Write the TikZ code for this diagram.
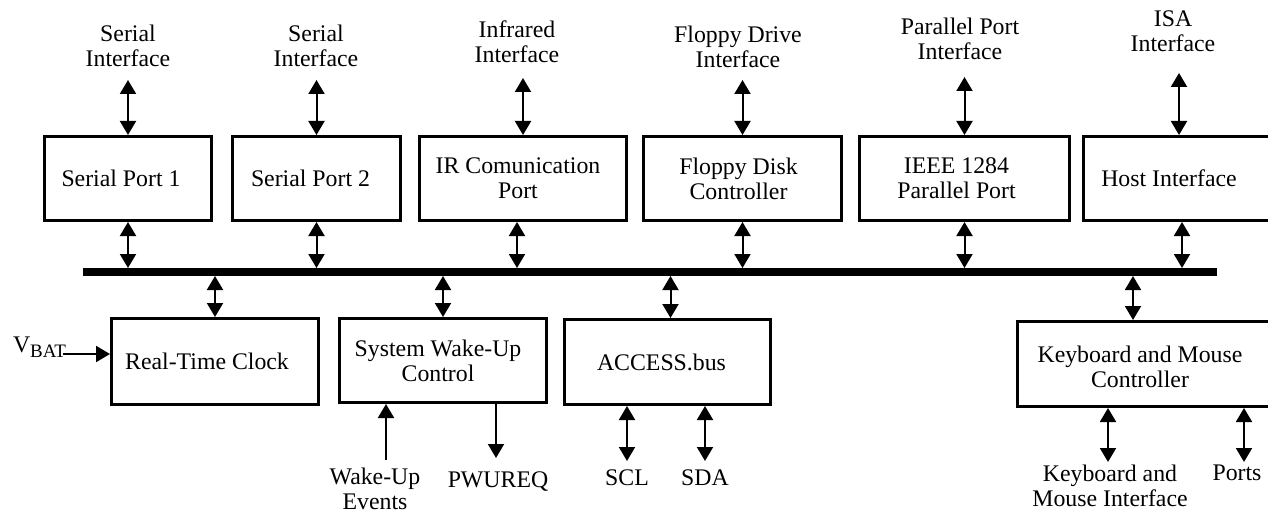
\documentclass[tikz,border=0pt]{standalone}
\usepackage{fontspec}
\setmainfont{Liberation Serif}
\usetikzlibrary{arrows.meta}
\begin{document}
\begin{tikzpicture}[x=1pt,y=-1pt,
  every node/.style={font=\fontsize{23.8}{25}\selectfont},
  box/.style={draw, line width=3pt, inner sep=0pt, align=center},
  lbl/.style={inner sep=0pt, outer sep=0pt, align=center},
  bi/.style={line width=2pt, {Triangle[length=14pt,width=16pt]}-{Triangle[length=14pt,width=16pt]}},
  uni/.style={line width=2pt, -{Triangle[length=14pt,width=16pt]}},
  bus/.style={line width=8pt}]
\useasboundingbox (0,0) rectangle (1268,513);
\clip (0,0) rectangle (1268,513);

% bus
\coordinate (busL) at (83,272);
\coordinate (busR) at (1217,272);
\coordinate (bt) at (0,268);
\coordinate (bb) at (0,276);
\draw[bus] (busL) -- (busR);

% top boxes
\node[box, minimum width=167, minimum height=84, label={[lbl,xshift=-7pt]center:Serial Port 1}] (sp1) at (128,178.5) {};
\node[box, minimum width=168, minimum height=84, label={[lbl,xshift=-6pt]center:Serial Port 2}] (sp2) at (316.5,178.5) {};
\node[box, minimum width=207, minimum height=84, label={[lbl,xshift=-5pt]center:IR Comunication\\Port}] (ir) at (523,178.5) {};
\node[box, minimum width=198, minimum height=84, label={[lbl,xshift=-4pt]center:Floppy Disk\\Controller}] (fdc) at (742.5,178.5) {};
\node[box, minimum width=210, minimum height=84, label={[lbl,xshift=-8pt]center:IEEE 1284\\Parallel Port}] (ieee) at (964.5,178.5) {};
\node[box, minimum width=187, minimum height=84, label={[lbl,xshift=-8pt]center:Host Interface}] (host) at (1177,178.5) {};

% top labels
\node[lbl, anchor=south] (l1) at (128,67) {Serial\\Interface};
\node[lbl, anchor=south] (l2) at (316,67) {Serial\\Interface};
\node[lbl, anchor=south] (l3) at (517,63) {Infrared\\Interface};
\node[lbl, anchor=south] (l4) at (738,68) {Floppy Drive\\Interface};
\node[lbl, anchor=south] (l5) at (960,60) {Parallel Port\\Interface};
\node[lbl, anchor=south] (l6) at (1173,52) {ISA\\Interface};

\draw[bi, shorten <=13pt] (l1.south -| sp1.north) -- (sp1.north);
\draw[bi, shorten <=13pt] (l2.south -| sp2.north) -- (sp2.north);
\draw[bi, shorten <=15pt] (l3.south -| ir.north) -- (ir.north);
\draw[bi, shorten <=12pt] (l4.south -| fdc.north) -- (fdc.north);
\draw[bi, shorten <=17pt] (l5.south -| ieee.north) -- (ieee.north);
\draw[bi, shorten <=21pt] ([xshift=2pt]l6.south -| host.north) -- ([xshift=2pt]host.north);

% top boxes to bus
\draw[bi] (sp1.south) -- (sp1.south |- bt);
\draw[bi] (sp2.south) -- (sp2.south |- bt);
\draw[bi] ([xshift=-6pt]ir.south) -- ([xshift=-6pt]ir.south |- bt);
\draw[bi] (fdc.south) -- (fdc.south |- bt);
\draw[bi] (ieee.south) -- (ieee.south |- bt);
\draw[bi] ([xshift=5pt]host.south) -- ([xshift=5pt]host.south |- bt);

% bottom boxes
\node[box, minimum width=207, minimum height=86, label={[lbl,xshift=-8pt]center:Real-Time Clock}] (rtc) at (215,361.5) {};
\node[box, minimum width=207, minimum height=84, label={[lbl,xshift=-5pt]center:System Wake-Up\\Control}] (swu) at (443,360.5) {};
\node[box, minimum width=206, minimum height=85, label={[lbl,xshift=-6pt]center:ACCESS.bus}] (acc) at (667.5,362) {};
\node[box, minimum width=253, minimum height=85, label={[lbl,xshift=-4pt,yshift=-3pt]center:Keyboard and Mouse\\Controller}] (kbc) at (1144,364) {};

% bus to bottom boxes
\draw[bi] (rtc.north |- bb) -- (rtc.north);
\draw[bi] (swu.north |- bb) -- (swu.north);
\draw[bi] ([xshift=3pt]acc.north |- bb) -- ([xshift=3pt]acc.north);
\draw[bi] ([xshift=-11pt]kbc.north |- bb) -- ([xshift=-11pt]kbc.north);

% VBAT
\node[lbl, anchor=base west] (vbat) at (13,352) {V\raisebox{-5pt}{\fontsize{19}{19}\selectfont BAT}};
\coordinate (vb) at (63,354);
\draw[uni] (vb) -- (vb -| rtc.west);

% bottom labels
\node[lbl, anchor=north] (wue) at (375,468) {Wake-Up\\Events};
\node[lbl, anchor=north] (pw) at (498,472) {PWUREQ};
\node[lbl, anchor=north] (scl) at (627,470) {SCL};
\node[lbl, anchor=north] (sda) at (705,470) {SDA};
\node[lbl, anchor=north] (kmi) at (1110,465) {Keyboard and\\Mouse Interface};
\node[lbl, anchor=north] (ports) at (1237,465) {Ports};

\draw[uni, shorten <=8pt] ([xshift=11pt]wue.north) -- ([xshift=11pt]wue.north |- swu.south);
\draw[uni, shorten >=14pt] ([xshift=-2pt]pw.north |- swu.south) -- ([xshift=-2pt]pw.north);
\draw[bi, shorten >=9pt] (scl.north |- acc.south) -- (scl.north);
\draw[bi, shorten >=9pt] (sda.north |- acc.south) -- (sda.north);
\draw[bi, shorten >=3pt] ([xshift=-2pt]kmi.north |- kbc.south) -- ([xshift=-2pt]kmi.north);
\draw[bi, shorten >=3pt] ([xshift=7pt]ports.north |- kbc.south) -- ([xshift=7pt]ports.north);
\end{tikzpicture}
\end{document}
